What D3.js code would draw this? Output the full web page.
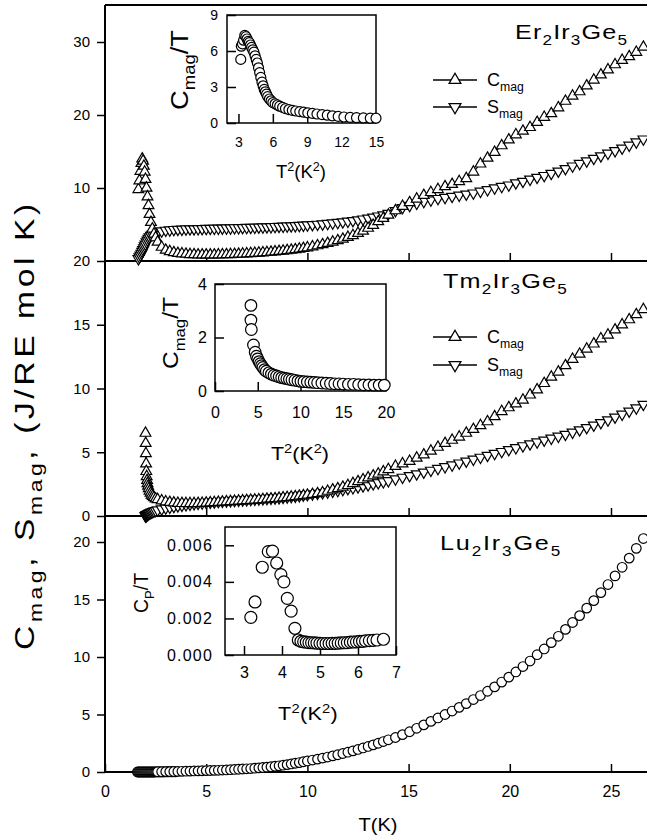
<!DOCTYPE html>
<html>
<head>
<meta charset="utf-8">
<script src="https://cdn.jsdelivr.net/npm/d3@7"></script>
<style>
  body { margin: 0; background: #fff; }
  svg { display: block; font-family: "Liberation Sans", Arial, Helvetica, sans-serif; }
</style>
</head>
<body>
<svg width="647" height="839"></svg>
<script>
// temperature grid shared by the three panels above ~2.5 K
const commonT = [
    2.6, 2.8, 3.0, 3.2, 3.4, 3.6, 3.8, 4.0, 4.2, 4.4, 4.6, 4.8, 5.0,
    5.2, 5.4, 5.6, 5.8, 6.0, 6.2, 6.4, 6.6, 6.8, 7.0,
    7.2, 7.4, 7.6, 7.8, 8.0, 8.2, 8.4, 8.6, 8.8, 9.0, 9.2, 9.4, 9.6, 9.8, 10.0,
    10.25, 10.5, 10.75, 11.0, 11.25, 11.5, 11.75, 12.0, 12.25, 12.5, 12.75, 13.0, 13.25, 13.5, 13.75, 14.0,
    14.35, 14.7, 15.05, 15.4, 15.75, 16.1, 16.45, 16.8, 17.15, 17.5, 17.85, 18.2, 18.55, 18.9, 19.25, 19.6,
    19.95, 20.3, 20.65, 21.0, 21.35, 21.7, 22.05, 22.4, 22.75, 23.1, 23.45, 23.8, 24.15, 24.5, 24.85, 25.2,
    25.55, 25.9, 26.25, 26.6
];

// Er2Ir3Ge5
const erLowT = [1.65, 1.7, 1.75, 1.8, 1.84, 1.88, 1.92, 1.96, 2.0, 2.05, 2.1, 2.15, 2.2, 2.27, 2.34, 2.42, 2.5];
const erLowC = [9.8, 11.0, 12.3, 13.4, 14.0, 13.7, 13.0, 12.2, 11.2, 10.0, 8.8, 7.6, 6.4, 5.3, 4.4, 3.7, 3.2];
const erLowS = [0.3, 0.55, 0.8, 1.05, 1.3, 1.55, 1.8, 2.05, 2.3, 2.6, 2.85, 3.1, 3.3, 3.5, 3.65, 3.75, 3.85];
const erC = [
    2.6, 1.9, 1.5, 1.3, 1.15, 1.05, 1.0, 0.95, 0.9, 0.88, 0.85, 0.85, 0.85,
    0.85, 0.85, 0.86, 0.87, 0.88, 0.9, 0.92, 0.95, 0.97, 1.0,
    1.03, 1.06, 1.1, 1.14, 1.18, 1.22, 1.27, 1.32, 1.38, 1.44, 1.5, 1.57, 1.65, 1.73, 1.82,
    1.95, 2.1, 2.25, 2.42, 2.6, 2.8, 3.0, 3.25, 3.5, 3.8, 4.1, 4.5, 4.9, 5.4, 5.85, 6.3,
    6.9, 7.5, 8.0, 8.5, 9.0, 9.4, 9.8, 10.2, 10.5, 10.9, 11.3, 12.2, 13.3, 14.1, 14.9, 15.8,
    16.6, 17.3, 17.8, 18.3, 19.0, 19.7, 20.2, 21.0, 21.9, 22.6, 23.2, 24.0, 24.8, 25.5, 26.2, 26.9,
    27.5, 28.0, 28.6, 29.3
];
const erS = [
    3.9, 4.1, 4.2, 4.25, 4.3, 4.33, 4.35, 4.37, 4.39, 4.4, 4.42, 4.43, 4.45,
    4.46, 4.47, 4.48, 4.5, 4.51, 4.52, 4.54, 4.55, 4.57, 4.58,
    4.6, 4.61, 4.63, 4.65, 4.67, 4.69, 4.71, 4.73, 4.75, 4.78, 4.8, 4.83, 4.86, 4.89, 4.93,
    4.97, 5.02, 5.07, 5.13, 5.2, 5.27, 5.35, 5.44, 5.53, 5.63, 5.74, 5.86, 6.0, 6.15, 6.3, 6.5,
    6.9, 7.3, 7.6, 7.9, 8.15, 8.35, 8.55, 8.7, 8.85, 9.0, 9.15, 9.3, 9.55, 9.75, 10.0, 10.2,
    10.4, 10.7, 10.9, 11.2, 11.45, 11.7, 12.0, 12.3, 12.65, 13.0, 13.35, 13.7, 14.05, 14.4, 14.75, 15.1,
    15.45, 15.85, 16.3, 16.7
];

// Tm2Ir3Ge5
const tmLowT = [2.0, 2.01, 2.02, 2.03, 2.04, 2.06, 2.08, 2.1, 2.13, 2.16, 2.2, 2.25, 2.3, 2.36, 2.42, 2.5];
const tmLowC = [6.5, 5.7, 4.9, 4.1, 3.5, 3.1, 2.8, 2.55, 2.35, 2.15, 1.95, 1.8, 1.65, 1.55, 1.45, 1.35];
const tmLowS = [0.0, 0.01, 0.02, 0.04, 0.06, 0.08, 0.1, 0.12, 0.15, 0.18, 0.22, 0.26, 0.3, 0.34, 0.38, 0.42];
const tmC = [
    1.3, 1.2, 1.12, 1.07, 1.03, 1.0, 0.99, 0.98, 0.98, 0.98, 0.99, 1.0, 1.02,
    1.04, 1.06, 1.08, 1.1, 1.12, 1.14, 1.16, 1.18, 1.2, 1.22,
    1.24, 1.26, 1.28, 1.3, 1.33, 1.35, 1.37, 1.4, 1.43, 1.46, 1.49, 1.52, 1.56, 1.6, 1.64,
    1.7, 1.76, 1.83, 1.95, 2.05, 2.15, 2.27, 2.4, 2.55, 2.7, 2.85, 3.0, 3.15, 3.3, 3.47, 3.65,
    3.9, 4.1, 4.3, 4.55, 4.8, 5.1, 5.4, 5.7, 5.95, 6.2, 6.5, 6.8, 7.1, 7.4, 7.8, 8.2,
    8.5, 8.8, 9.1, 9.5, 9.9, 10.4, 10.9, 11.3, 11.8, 12.3, 12.7, 13.1, 13.5, 13.9, 14.2, 14.6,
    15.0, 15.4, 15.8, 16.2
];
const tmS = [
    0.47, 0.55, 0.62, 0.68, 0.74, 0.79, 0.84, 0.88, 0.92, 0.96, 0.99, 1.02, 1.05,
    1.08, 1.1, 1.13, 1.15, 1.17, 1.19, 1.21, 1.23, 1.25, 1.27,
    1.29, 1.31, 1.33, 1.35, 1.37, 1.39, 1.41, 1.43, 1.46, 1.49, 1.52, 1.55, 1.59, 1.63, 1.67,
    1.72, 1.77, 1.82, 1.88, 1.94, 2.0, 2.07, 2.14, 2.21, 2.28, 2.36, 2.44, 2.52, 2.6, 2.68, 2.76,
    2.9, 3.03, 3.16, 3.3, 3.44, 3.58, 3.72, 3.86, 4.0, 4.15, 4.3, 4.45, 4.6, 4.75, 4.9, 5.05,
    5.2, 5.35, 5.5, 5.65, 5.8, 5.95, 6.1, 6.25, 6.4, 6.57, 6.75, 6.93, 7.12, 7.32, 7.53, 7.75,
    7.98, 8.22, 8.47, 8.75
];

// Lu2Ir3Ge5
const luLowT = [
    1.6, 1.65, 1.7, 1.75, 1.8, 1.85, 1.9, 1.95, 2.0, 2.05, 2.1, 2.15, 2.2, 2.25, 2.3, 2.35, 2.4, 2.45, 2.5, 2.55,
    2.65, 2.7, 2.75, 2.85, 2.9, 2.95, 3.05, 3.1, 3.15, 3.25, 3.3, 3.35, 3.45, 3.5
];
const luLowCp = [
    0, 0, 0, 0, 0, 0, 0, 0, 0, 0, 0, 0, 0, 0, 0, 0, 0, 0, 0.01, 0.01,
    0.01, 0.01, 0.01, 0.01, 0.01, 0.01, 0.02, 0.02, 0.02, 0.02, 0.02, 0.02, 0.02, 0.02
];
const luCp = [
    0.02, 0.02, 0.03, 0.03, 0.04, 0.05, 0.06, 0.07, 0.08, 0.09, 0.1, 0.11, 0.12,
    0.13, 0.14, 0.15, 0.17, 0.18, 0.2, 0.22, 0.24, 0.26, 0.28,
    0.3, 0.33, 0.36, 0.39, 0.42, 0.46, 0.5, 0.54, 0.59, 0.64, 0.7, 0.76, 0.82, 0.89, 0.96,
    1.04, 1.12, 1.21, 1.3, 1.4, 1.5, 1.61, 1.72, 1.84, 1.96, 2.09, 2.22, 2.36, 2.5, 2.65, 2.8,
    3.0, 3.25, 3.5, 3.8, 4.1, 4.4, 4.7, 5.0, 5.3, 5.62, 5.95, 6.3, 6.65, 7.02, 7.4, 7.82,
    8.25, 8.7, 9.17, 9.65, 10.2, 10.7, 11.25, 11.8, 12.4, 13.0, 13.6, 14.25, 14.9, 15.6, 16.3, 17.05,
    17.8, 18.6, 19.45, 20.3
];

// insets: C/T against T^2
const erInsetT2 = [
    3.2, 3.25, 3.35, 3.45, 3.55, 3.65, 3.75, 3.85, 3.95, 4.05,
    4.15, 4.25, 4.35, 4.45, 4.55, 4.65, 4.75, 4.85, 4.95, 5.05,
    5.15, 5.25, 5.35, 5.45, 5.55, 5.7, 5.85, 6.0, 6.2, 6.4,
    6.6, 6.85, 7.1, 7.4, 7.7, 8.0, 8.35, 8.7, 9.05, 9.45,
    9.85, 10.3, 10.75, 11.2, 11.7, 12.2, 12.75, 13.3, 13.9, 14.5, 15.0
];
const erInsetCT = [
    5.3, 6.4, 6.6, 6.9, 7.3, 7.2, 7.0, 6.8, 6.7, 6.5,
    6.3, 6.1, 5.9, 5.6, 5.3, 5.0, 4.6, 4.2, 3.8, 3.4,
    3.1, 2.8, 2.6, 2.4, 2.2, 2.0, 1.85, 1.7, 1.6, 1.5,
    1.4, 1.3, 1.2, 1.12, 1.05, 1.0, 0.95, 0.9, 0.85, 0.8,
    0.75, 0.7, 0.65, 0.6, 0.55, 0.5, 0.47, 0.44, 0.42, 0.4, 0.4
];
const tmInsetT2 = [
    4.2, 4.2, 4.25, 4.5, 4.7, 4.85, 5.0, 5.15, 5.3, 5.45,
    5.6, 5.8, 6.0, 6.3, 6.6, 6.9, 7.2, 7.5, 7.8, 8.1,
    8.4, 8.7, 9.0, 9.35, 9.7, 10.05, 10.4, 10.8, 11.2, 11.6,
    12.0, 12.5, 13.0, 13.5, 14.0, 14.5, 15.0, 15.6, 16.2, 16.8,
    17.4, 18.0, 18.6, 19.2, 19.8
];
const tmInsetCT = [
    3.2, 2.65, 2.3, 1.72, 1.45, 1.3, 1.2, 1.1, 1.02, 0.95,
    0.88, 0.8, 0.74, 0.68, 0.63, 0.59, 0.56, 0.53, 0.5, 0.48,
    0.46, 0.44, 0.42, 0.4, 0.38, 0.36, 0.35, 0.34, 0.33, 0.32,
    0.31, 0.3, 0.29, 0.28, 0.27, 0.27, 0.26, 0.25, 0.25, 0.24,
    0.23, 0.23, 0.22, 0.22, 0.22
];
const luInsetT2 = [
    3.18, 3.29, 3.48, 3.64, 3.75, 3.86, 3.97, 4.05, 4.14, 4.24,
    4.34, 4.43, 4.5, 4.57, 4.64, 4.71, 4.78, 4.85, 4.92, 5.0,
    5.08, 5.16, 5.24, 5.32, 5.4, 5.48, 5.56, 5.64, 5.72, 5.8,
    5.88, 5.96, 6.04, 6.12, 6.2, 6.3, 6.4, 6.5, 6.67
];
const luInsetCT = [
    0.00206, 0.0029, 0.0048, 0.00565, 0.00568, 0.00503, 0.0044, 0.0040, 0.0031, 0.0024,
    0.00146, 0.00082, 0.00075, 0.00072, 0.0007, 0.00068, 0.00067, 0.00066, 0.00065, 0.00064,
    0.00063, 0.00063, 0.00063, 0.00064, 0.00064, 0.00065, 0.00066, 0.00067, 0.00068, 0.0007,
    0.00071, 0.00072, 0.00074, 0.00075, 0.00077, 0.00079, 0.0008, 0.00082, 0.00086
];

const svg = d3.select("svg");
const xMain = d3.scaleLinear().domain([0, 25]).range([105, 611]);
const rightEdge = 647;

// text made of normal / sub / sup pieces; a target width is reached partly by
// widening the glyphs (at most 20 %) and partly with letter spacing
function richText(parent, parts, o) {
    const g = parent.append("g");
    const t = g.append("text").attr("font-size", o.size).attr("fill", "#000");
    let shift = 0;
    let chars = 0;
    parts.forEach(([s, kind]) => {
        const target = kind === "sub" ? o.size * 0.3 : kind === "sup" ? -o.size * 0.4 : 0;
        t.append("tspan")
            .attr("dy", target - shift)
            .attr("font-size", kind ? o.size * 0.68 : o.size)
            .text(s);
        shift = target;
        chars += s.length;
    });
    let w = t.node().getComputedTextLength();
    let sx = 1;
    if (o.width) {
        sx = Math.max(0.85, Math.min(1.2, o.width / w));
        t.attr("letter-spacing", (o.width / sx - w) / chars);
        w = o.width / sx;
    }
    const ax = o.anchor === "middle" ? -w / 2 : o.anchor === "end" ? -w : 0;
    t.attr("x", ax);
    g.attr("transform", `translate(${o.x},${o.y}) rotate(${o.rotate || 0}) scale(${sx},1)`);
}

function marker(sel, shape, size) {
    if (shape === "circle") {
        sel.append("circle").attr("r", size);
    } else {
        sel.append("path")
            .attr("d", d3.symbol().type(d3.symbolTriangle).size(size)())
            .attr("transform", shape === "down" ? "rotate(180)" : null);
    }
}

function drawSeries(g, xs, ys, scaleX, scaleY, shape, size, withLine) {
    const pts = xs.map((x, i) => [x, ys[i]]);
    if (withLine) {
        g.append("path")
            .datum(pts)
            .attr("fill", "none")
            .attr("stroke", "#000")
            .attr("stroke-width", 1.2)
            .attr("d", d3.line().x(d => scaleX(d[0])).y(d => scaleY(d[1])));
    }
    pts.forEach(d => {
        const m = g.append("g")
            .attr("transform", `translate(${scaleX(d[0])},${scaleY(d[1])})`)
            .attr("fill", "#fff")
            .attr("stroke", "#000")
            .attr("stroke-width", 1.2);
        marker(m, shape, size);
    });
}

function styleAxis(ax, fontSize) {
    ax.select(".domain").remove();
    ax.selectAll(".tick line").attr("stroke", "#000").attr("stroke-width", 1.5);
    ax.selectAll(".tick text")
        .attr("fill", "#000")
        .attr("font-size", fontSize)
        .attr("font-family", "\"Liberation Sans\", Arial, sans-serif");
}

function drawPanel(p) {
    const y = d3.scaleLinear().domain(p.yDomain).range(p.yRange);
    const g = svg.append("g");

    const ay = g.append("g")
        .attr("transform", "translate(105,0)")
        .call(d3.axisLeft(y).tickValues(p.yTicks).tickSize(8).tickPadding(7).tickSizeOuter(0));
    styleAxis(ay, 15);

    const ax = g.append("g")
        .attr("transform", `translate(0,${p.yRange[0]})`)
        .call(d3.axisBottom(xMain)
            .tickValues(p.xLabels ? [0, 5, 10, 15, 20, 25] : [5, 10, 15, 20, 25])
            .tickSize(-8).tickPadding(14).tickSizeOuter(0)
            .tickFormat(p.xLabels ? d3.format("d") : ""));
    styleAxis(ax, 16);

    g.append("line")
        .attr("x1", 105).attr("x2", rightEdge)
        .attr("y1", p.yRange[0]).attr("y2", p.yRange[0])
        .attr("stroke", "#000").attr("stroke-width", 2);

    p.series.forEach(s => drawSeries(g, s.t, s.v, xMain, y, s.shape, s.size, s.line));

    richText(g, p.label, {x: p.labelX, y: p.labelY, size: 21, width: p.labelW});

    if (p.legend) {
        p.legend.forEach(l => {
            g.append("line")
                .attr("x1", 433).attr("x2", 477)
                .attr("y1", l.y).attr("y2", l.y)
                .attr("stroke", "#000").attr("stroke-width", 1.5);
            const m = g.append("g")
                .attr("transform", `translate(455,${l.y})`)
                .attr("fill", "#fff").attr("stroke", "#000").attr("stroke-width", 1.3);
            marker(m, l.shape, 60);
            richText(g, [[l.name], ["mag", "sub"]], {x: 487, y: l.y + 6, size: 18});
        });
    }
}

function drawInset(c) {
    const x = d3.scaleLinear().domain(c.xDomain).range(c.xRange);
    const y = d3.scaleLinear().domain(c.yDomain).range(c.yRange);
    const g = svg.append("g");

    g.append("rect")
        .attr("x", c.xRange[0]).attr("y", c.yRange[1])
        .attr("width", c.xRange[1] - c.xRange[0])
        .attr("height", c.yRange[0] - c.yRange[1])
        .attr("fill", "none").attr("stroke", "#000").attr("stroke-width", 1.5);

    const ax = g.append("g")
        .attr("transform", `translate(0,${c.yRange[0]})`)
        .call(d3.axisBottom(x).tickValues(c.xTicks).tickSize(-9).tickPadding(c.xPad).tickSizeOuter(0)
            .tickFormat(d3.format("d")));
    styleAxis(ax, c.font);

    const ay = g.append("g")
        .attr("transform", `translate(${c.xRange[0]},0)`)
        .call(d3.axisLeft(y).tickValues(c.yTicks).tickSize(-9).tickPadding(c.yPad).tickSizeOuter(0)
            .tickFormat(c.yFormat));
    styleAxis(ay, c.font);
    if (c.yLetterSpacing) ay.selectAll(".tick text").attr("letter-spacing", c.yLetterSpacing);

    drawSeries(g, c.t2, c.ct, x, y, "circle", c.r, false);

    richText(g, c.yTitle, {x: c.yTitleX, y: c.yTitleY, size: c.yTitleSize, width: c.yTitleW, anchor: "middle", rotate: -90});
    richText(g, [["T"], ["2", "sup"], ["(K"], ["2", "sup"], [")"]],
        {x: c.xTitleX, y: c.xTitleY, size: 18, width: c.xTitleW, anchor: "middle"});
}

// outer frame: top edge and left edge
svg.append("line").attr("x1", 105).attr("x2", rightEdge).attr("y1", 5).attr("y2", 5)
    .attr("stroke", "#000").attr("stroke-width", 2);
svg.append("line").attr("x1", 105).attr("x2", 105).attr("y1", 5).attr("y2", 773)
    .attr("stroke", "#000").attr("stroke-width", 2);

drawPanel({
    yDomain: [0, 35], yRange: [261, 5.5], yTicks: [10, 20, 30], xLabels: false,
    label: [["Er"], ["2", "sub"], ["Ir"], ["3", "sub"], ["Ge"], ["5", "sub"]],
    labelX: 515, labelY: 39, labelW: 113,
    legend: [{y: 80, shape: "up", name: "C"}, {y: 107, shape: "down", name: "S"}],
    series: [
        {t: erLowT.concat(commonT), v: erLowS.concat(erS), shape: "down", size: 50, line: true},
        {t: erLowT.concat(commonT), v: erLowC.concat(erC), shape: "up", size: 50, line: true}
    ]
});

drawPanel({
    yDomain: [0, 20], yRange: [516, 261], yTicks: [0, 5, 10, 15, 20], xLabels: false,
    label: [["Tm"], ["2", "sub"], ["Ir"], ["3", "sub"], ["Ge"], ["5", "sub"]],
    labelX: 443, labelY: 288, labelW: 125,
    legend: [{y: 337, shape: "up", name: "C"}, {y: 365, shape: "down", name: "S"}],
    series: [
        {t: tmLowT.concat(commonT), v: tmLowS.concat(tmS), shape: "down", size: 50, line: true},
        {t: tmLowT.concat(commonT), v: tmLowC.concat(tmC), shape: "up", size: 50, line: true}
    ]
});

drawPanel({
    yDomain: [0, 20], yRange: [772, 542], yTicks: [0, 5, 10, 15, 20], xLabels: true,
    label: [["Lu"], ["2", "sub"], ["Ir"], ["3", "sub"], ["Ge"], ["5", "sub"]],
    labelX: 440, labelY: 550, labelW: 122,
    legend: null,
    series: [
        {t: luLowT.concat(commonT), v: luLowCp.concat(luCp), shape: "circle", size: 4.8, line: false}
    ]
});

drawInset({
    xDomain: [2, 15], xRange: [227, 376], yDomain: [0, 9], yRange: [123, 15],
    xTicks: [3, 6, 9, 12, 15], yTicks: [0, 3, 6, 9], yFormat: d3.format("d"),
    font: 14, xPad: 14, yPad: 9, r: 5,
    t2: erInsetT2, ct: erInsetCT,
    yTitle: [["C"], ["mag", "sub"], ["/T"]], yTitleX: 188, yTitleY: 70, yTitleSize: 23, yTitleW: 80,
    xTitleX: 301, xTitleY: 178, xTitleW: 50
});

drawInset({
    xDomain: [0, 20], xRange: [215, 386], yDomain: [0, 4], yRange: [391, 284],
    xTicks: [0, 5, 10, 15, 20], yTicks: [0, 2, 4], yFormat: d3.format("d"),
    font: 16, xPad: 16, yPad: 8, r: 5.8,
    t2: tmInsetT2, ct: tmInsetCT,
    yTitle: [["C"], ["mag", "sub"], ["/T"]], yTitleX: 178, yTitleY: 333, yTitleSize: 22, yTitleW: 72,
    xTitleX: 300, xTitleY: 460, xTitleW: 58
});

drawInset({
    xDomain: [2.5, 7], xRange: [225, 396], yDomain: [0, 0.007], yRange: [655, 527],
    xTicks: [3, 4, 5, 6, 7], yTicks: [0, 0.002, 0.004, 0.006], yFormat: d3.format(".3f"),
    font: 16, xPad: 12, yPad: 12, r: 6, yLetterSpacing: 1.2,
    t2: luInsetT2, ct: luInsetCT,
    yTitle: [["C"], ["P", "sub"], ["/T"]], yTitleX: 148, yTitleY: 593, yTitleSize: 20, yTitleW: 40,
    xTitleX: 308, xTitleY: 720, xTitleW: 60
});

// axis titles of the main plot
richText(svg, [["C"], ["mag", "sub"], [", S"], ["mag", "sub"], [", (J/RE mol K)"]],
    {x: 34, y: 425, size: 28, width: 450, anchor: "middle", rotate: -90});
richText(svg, [["T(K)"]], {x: 378, y: 831, size: 19, width: 39, anchor: "middle"});
</script>
</body>
</html>
